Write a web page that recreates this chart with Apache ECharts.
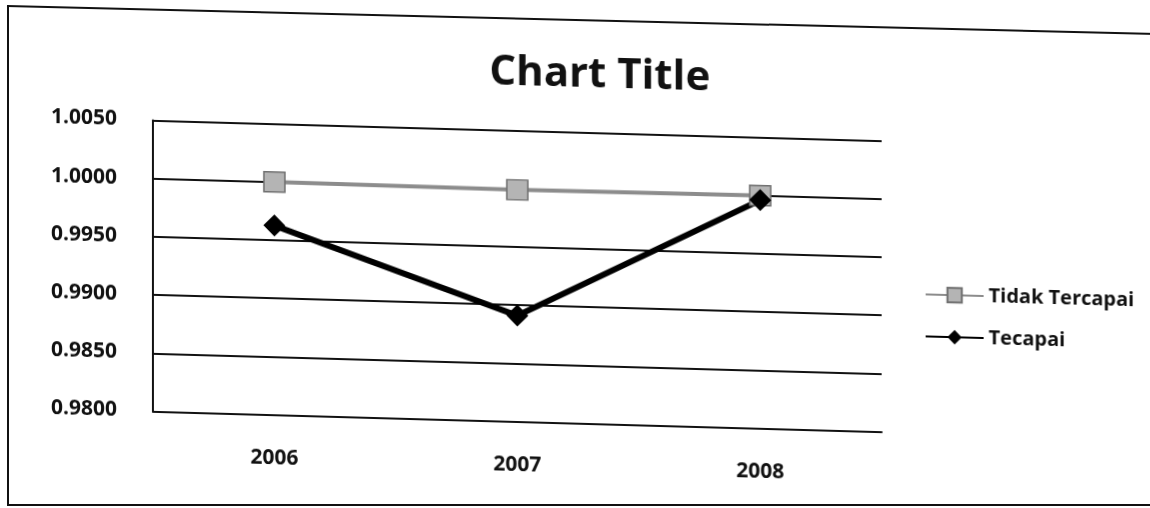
<!DOCTYPE html>
<html><head><meta charset="utf-8">
<script src="https://cdn.jsdelivr.net/npm/echarts@6/dist/echarts.min.js"></script>
<style>
html,body{margin:0;padding:0;background:#fff;width:1150px;height:508px;overflow:hidden;position:relative}
#c{position:absolute;left:0;top:0;width:1150px;height:508px;transform:skewY(1.6deg);transform-origin:517px 276px}
#frame{position:absolute;left:7px;top:5px;width:1160px;height:499px;border-left:2px solid #111;border-bottom:2px solid #111}
#topline{position:absolute;left:7px;top:5px;width:1150px;height:0;border-top:2px solid #111;transform:rotate(1.4deg);transform-origin:0 0}
</style></head><body>
<div id="c"></div>
<div id="frame"></div>
<div id="topline"></div>
<script>
const categories = ['2006','2007','2008'];
const tidakTercapai = [1.0000, 0.9999, 1.0000];
const tecapai = [0.99625, 0.9891, 0.9996];
const yMin = 0.98, yMax = 1.005, yInterval = 0.005;

const chart = echarts.init(document.getElementById('c'));
const font = '"Open Sans", "Liberation Sans", sans-serif';
chart.setOption({
  animation:false,
  title:{text:'Chart Title',left:595,top:47,textAlign:'center',
    textStyle:{fontFamily:font,fontSize:42,fontWeight:'bold',color:'#111'}},
  legend:{orient:'vertical',left:920,top:268,itemGap:22,itemWidth:58,itemHeight:18,
    textStyle:{fontFamily:font,fontSize:20,fontWeight:'bold',color:'#111'},
    data:['Tidak Tercapai','Tecapai']},
  grid:{left:153,top:130.5,width:729,height:291},
  xAxis:{type:'category',data:categories,boundaryGap:true,
    axisLine:{lineStyle:{color:'#111',width:2}},axisTick:{show:false},
    axisLabel:{margin:33,fontFamily:font,fontSize:21,fontWeight:'bold',color:'#111'}},
  yAxis:{type:'value',min:yMin,max:yMax,interval:yInterval,
    axisLine:{show:true,lineStyle:{color:'#111',width:2}},axisTick:{show:false},
    splitLine:{lineStyle:{color:'#111',width:1.8}},
    axisLabel:{margin:36,fontFamily:font,fontSize:21,fontWeight:'bold',color:'#111',formatter:v=>v.toFixed(4)}},
  series:[
    {name:'Tidak Tercapai',type:'line',data:tidakTercapai,symbol:'rect',symbolSize:[21,20],
      lineStyle:{color:'#8c8c8c',width:4},itemStyle:{color:'#b4b4b4',borderColor:'#707070',borderWidth:1.5}},
    {name:'Tecapai',type:'line',data:tecapai,symbol:'diamond',symbolSize:22,
      lineStyle:{color:'#000',width:6},itemStyle:{color:'#000'}}
  ]
});
</script></body></html>
